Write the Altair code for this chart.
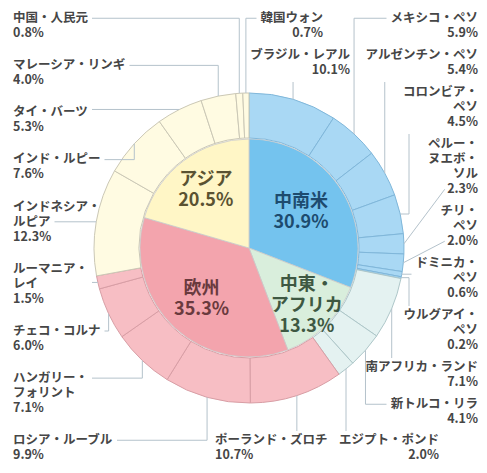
import altair as alt
import pandas as pd
import numpy as np

# ---------------- data ----------------
regions = ["中南米", "中東・アフリカ", "欧州", "アジア"]
region_text = ["中南米", "中東・\nアフリカ", "欧州", "アジア"]
region_share = [30.9, 13.3, 35.3, 20.5]

currency_names = [
    "ブラジル・レアル", "メキシコ・ペソ", "アルゼンチン・ペソ", "コロンビア・\nペソ",
    "ペルー・\nヌエボ・\nソル", "チリ・\nペソ", "ドミニカ・\nペソ", "ウルグアイ・\nペソ",
    "南アフリカ・ランド", "新トルコ・リラ", "エジプト・ポンド",
    "ポーランド・ズロチ", "ロシア・ルーブル", "ハンガリー・\nフォリント", "チェコ・コルナ", "ルーマニア・\nレイ",
    "インドネシア・\nルピア", "インド・ルピー", "タイ・バーツ", "マレーシア・リンギ", "中国・人民元", "韓国ウォン",
]
currency_share = [10.1, 5.9, 5.4, 4.5, 2.3, 2.0, 0.6, 0.2,
                  7.1, 4.1, 2.0,
                  10.7, 9.9, 7.1, 6.0, 1.5,
                  12.3, 7.6, 5.3, 4.0, 0.8, 0.7]
currency_region = ["中南米"] * 8 + ["中東・アフリカ"] * 3 + ["欧州"] * 5 + ["アジア"] * 6

# ---------------- layout / style ----------------
W, H = 471, 457
CX, CY = 241, 240
R_IN, R_OUT = 109, 155
FS, LH = 12.5, 15
IFS, ILH = 18, 21
FONT = "Noto Sans CJK JP"
inner_label_r = [63, 82, 70, 72]

side = ["T", "R", "R", "R", "R", "R", "R", "R", "R", "R", "B",
        "B", "L", "L", "L", "L", "L", "L", "L", "L", "L", "T"]
straight = {4, 5}

inner_fill = {"中南米": "#74c3ee", "中東・アフリカ": "#d9eedc", "欧州": "#f3a4ad", "アジア": "#fff6c6"}
outer_fill = {"中南米": "#a9d8f4", "中東・アフリカ": "#e4f2f1", "欧州": "#f7bec4", "アジア": "#fffbe2"}
outer_stroke = {"中南米": "#80b7da", "中東・アフリカ": "#aec7c9", "欧州": "#d89ea5", "アジア": "#cbc8b6"}
inner_tcol = {"中南米": "#1d4b6e", "中東・アフリカ": "#3e5842", "欧州": "#6a3a3e", "アジア": "#5a5232"}


def text_w(s):
    w = 0.0
    for ch in s:
        if ord(ch) > 0x2000:
            w += FS
        elif ch.isdigit():
            w += 0.58 * FS
        elif ch == ".":
            w += 0.3 * FS
        elif ch == "%":
            w += 0.88 * FS
        else:
            w += 0.55 * FS
    return w


labels = [f"{n}\n{v:.1f}%" for n, v in zip(currency_names, currency_share)]
n_lines = [len(t.split("\n")) for t in labels]


def stack(idx_list, top, bottom):
    hs = [n_lines[i] * LH for i in idx_list]
    gap = (bottom - top - sum(hs)) / (len(idx_list) - 1)
    out, y = {}, top
    for i, h in zip(idx_list, hs):
        out[i] = y
        y += h + gap
    return out


right_ids = [i for i in range(len(side)) if side[i] == "R"]
left_ids = [i for i in range(len(side)) if side[i] == "L"][::-1]
tops = {}
tops.update(stack(right_ids, 4, 420))
tops.update(stack(left_ids, 4, 456))
tops[21] = tops[right_ids[0]]
tops[0] = tops[right_ids[1]]
tops[11] = 426
tops[10] = 426

anchor = {}
for i in range(len(side)):
    if side[i] == "L":
        anchor[i] = (5, "left")
    elif side[i] == "R":
        anchor[i] = (470, "right")
anchor[21] = (CX + 74, "right")
anchor[0] = (CX + 101, "right")
anchor[11] = (CX - 34, "left")
anchor[10] = (CX + 190, "right")

# segment mid angles (outer ring)
total = sum(currency_share)
cum = np.cumsum(currency_share)
mid = [(c - v / 2) / total * 2 * np.pi for c, v in zip(cum, currency_share)]


def route(i):
    th = mid[i]
    px, py = CX + R_OUT * np.sin(th), CY - R_OUT * np.cos(th)
    ax, al = anchor[i]
    lines = labels[i].split("\n")
    t = tops[i]
    info = []
    for j, ln in enumerate(lines):
        w = text_w(ln)
        lx0, lx1 = (ax, ax + w) if al == "left" else (ax - w, ax)
        info.append((t + j * LH + FS / 2, lx0, lx1))
    x0 = min(r[1] for r in info)
    x1 = max(r[2] for r in info)
    y0, y1 = t, t + len(lines) * LH
    p_left = px < (x0 + x1) / 2
    if i in straight:
        yc, lx0, lx1 = min(info, key=lambda r: abs(r[0] - py))
        return [(px, py), ((lx0 - 4) if p_left else (lx1 + 4), yc)]
    if y0 <= py <= y1:
        edge = x0 - 4 if p_left else x1 + 4
        if (p_left and edge > px + 3) or ((not p_left) and edge < px - 3):
            return [(px, py), (edge, py)]
        yc, lx0, lx1 = min(info, key=lambda r: abs(r[0] - py))
        edge = lx0 - 4 if p_left else lx1 + 4
        return [(px, py), (edge, py)]
    above = y1 < py
    if x0 - 6 <= px <= x1 + 6:
        xv = min(max(px, x0 + 6), x1 - 6)
        ye = y1 + 3 if above else y0 - 3
        return [(px, py), (xv, py), (xv, ye)]
    yc, lx0, lx1 = info[0]
    edge = lx0 - 4 if px < x0 else lx1 + 4
    return [(px, py), (px, yc), (edge, yc)]


line_rows = []
for i in range(len(currency_names)):
    for k, (x, y) in enumerate(route(i)):
        line_rows.append({"id": i, "k": k, "x": x, "y": y})
lines_df = pd.DataFrame(line_rows)

lab_df = pd.DataFrame({
    "id": range(len(labels)),
    "text": labels,
    "x": [anchor[i][0] for i in range(len(labels))],
    "y": [tops[i] for i in range(len(labels))],
    "align": [anchor[i][1] for i in range(len(labels))],
})

# inner label positions from the inner ring's mid angles
icum = np.cumsum(region_share)
imid = [(c - v / 2) / sum(region_share) * 2 * np.pi for c, v in zip(icum, region_share)]
inner_labels = [f"{t}\n{v:.1f}%" for t, v in zip(region_text, region_share)]
inner_lab_df = pd.DataFrame({
    "label": inner_labels,
    "x": [CX + r * np.sin(a) for r, a in zip(inner_label_r, imid)],
    "y": [CY - r * np.cos(a) - (len(t.split("\n")) * ILH - (ILH - IFS)) / 2
          for r, a, t in zip(inner_label_r, imid, inner_labels)],
    "tcol": [inner_tcol[r] for r in regions],
})

inner_df = pd.DataFrame({
    "region": regions,
    "share": region_share,
    "idx": list(range(len(regions))),
    "fill": [inner_fill[r] for r in regions],
})
outer_df = pd.DataFrame({
    "currency": currency_names,
    "share": currency_share,
    "idx": list(range(len(currency_names))),
    "fill": [outer_fill[r] for r in currency_region],
    "scol": [outer_stroke[r] for r in currency_region],
})

xs = alt.Scale(domain=[0, W], nice=False, zero=False)
ys = alt.Scale(domain=[0, H], nice=False, zero=False, reverse=True)

inner_arc = alt.Chart(inner_df).mark_arc(
    outerRadius=R_IN, x=CX, y=CY, stroke="#c9c9c9", strokeWidth=0.8
).encode(
    theta=alt.Theta("share:Q", stack=True),
    order=alt.Order("idx:Q"),
    fill=alt.Fill("fill:N", scale=None),
)

outer_arc = alt.Chart(outer_df).mark_arc(
    innerRadius=R_IN + 1, outerRadius=R_OUT, x=CX, y=CY, strokeWidth=1
).encode(
    theta=alt.Theta("share:Q", stack=True),
    order=alt.Order("idx:Q"),
    fill=alt.Fill("fill:N", scale=None),
    stroke=alt.Stroke("scol:N", scale=None),
)

inner_txt = alt.Chart(inner_lab_df).mark_text(
    fontSize=IFS, fontWeight="bold", font=FONT,
    lineBreak="\n", lineHeight=ILH, align="center", baseline="top"
).encode(
    x=alt.X("x:Q", scale=xs, axis=None),
    y=alt.Y("y:Q", scale=ys, axis=None),
    text="label:N",
    color=alt.Color("tcol:N", scale=None),
)

leaders = alt.Chart(lines_df).mark_line(color="#b4c2cb", strokeWidth=1).encode(
    x=alt.X("x:Q", scale=xs, axis=None),
    y=alt.Y("y:Q", scale=ys, axis=None),
    detail="id:N",
    order="k:Q",
)


def label_layer(al):
    return alt.Chart(lab_df[lab_df["align"] == al]).mark_text(
        align=al, baseline="top", fontSize=FS, fontWeight="bold", font=FONT,
        lineBreak="\n", lineHeight=LH, color="#464646"
    ).encode(
        x=alt.X("x:Q", scale=xs, axis=None),
        y=alt.Y("y:Q", scale=ys, axis=None),
        text="text:N",
    )


chart = alt.layer(
    inner_arc, outer_arc, inner_txt, leaders, label_layer("left"), label_layer("right")
).resolve_scale(theta="independent").properties(
    width=W, height=H, padding=0,
    autosize=alt.AutoSizeParams(type="none"),
    background="white",
).configure_view(stroke=None)

chart.save("out.html", embed_options={"renderer": "svg", "actions": False})
